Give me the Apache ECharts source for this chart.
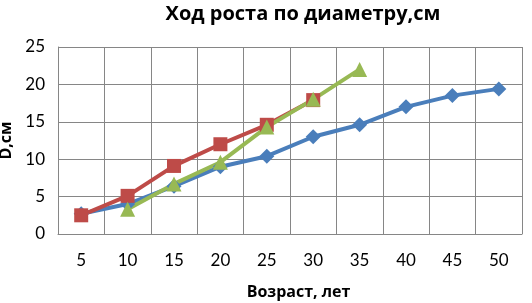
<!DOCTYPE html>
<html><head><meta charset="utf-8">
<script src="https://cdn.jsdelivr.net/npm/echarts@6/dist/echarts.min.js"></script>
<style>html,body{margin:0;padding:0;background:#fff}#c{width:532px;height:303px}</style>
</head><body><div id="c"></div>
<script>
const categories = ['5','10','15','20','25','30','35','40','45','50'];
const seriesBlue = [2.7, 4.0, 6.4, 9.0, 10.4, 13.0, 14.6, 17.0, 18.5, 19.4];
const seriesRed = [2.5, 5.1, 9.1, 12.0, 14.6, 17.9, null, null, null, null];
const seriesGreen = [null, 3.3, 6.7, 9.6, 14.3, 18.0, 22.0, null, null, null];
const yTicks = {min: 0, max: 25, interval: 5};
const title = 'Ход роста по диаметру,см';
const xName = 'Возраст, лет';
const yName = 'D,см';

const font = 'Lato, "Open Sans", sans-serif';
const boldFont = '"Open Sans", Lato, sans-serif';
const chart = echarts.init(document.getElementById('c'), null, {renderer: 'canvas'});
chart.setOption({
  animation: false,
  backgroundColor: '#fff',
  title: {text: title, left: 298, textAlign: 'center', top: -1,
    textStyle: {fontFamily: boldFont, fontWeight: 'bold', fontSize: 20, color: '#000'}},
  grid: {left: 58, right: 10, top: 47, bottom: 69, containLabel: false, outerBoundsMode: 'none'},
  xAxis: {type: 'category', data: categories, boundaryGap: true,
    name: xName, nameLocation: 'middle', nameGap: 50,
    nameTextStyle: {fontFamily: boldFont, fontWeight: 'bold', fontSize: 16, color: '#000', padding: [0, 0, 0, 17]},
    axisLine: {lineStyle: {color: '#868686', width: 1}},
    axisTick: {show: false},
    axisLabel: {fontFamily: font, fontSize: 17, color: '#000', margin: 18},
    splitLine: {show: true, lineStyle: {color: '#868686', width: 1}}},
  yAxis: {type: 'value', min: yTicks.min, max: yTicks.max, interval: yTicks.interval,
    name: yName, nameLocation: 'middle', nameGap: 40, nameRotate: 90,
    nameTextStyle: {fontFamily: boldFont, fontWeight: 'bold', fontSize: 16, color: '#000'},
    axisLine: {show: true, lineStyle: {color: '#868686', width: 1}},
    axisTick: {show: false},
    axisLabel: {fontFamily: font, fontSize: 17, color: '#000', margin: 13},
    splitLine: {show: true, lineStyle: {color: '#868686', width: 1}}},
  series: [
    {type: 'line', data: seriesBlue, symbol: 'diamond', symbolSize: 15,
     lineStyle: {color: '#4A7EBB', width: 4}, itemStyle: {color: '#4A7EBB'}},
    {type: 'line', data: seriesRed, symbol: 'rect', symbolSize: 14,
     lineStyle: {color: '#BE4B48', width: 4}, itemStyle: {color: '#BE4B48'}},
    {type: 'line', data: seriesGreen, symbol: 'triangle', symbolSize: 15,
     lineStyle: {color: '#98B954', width: 4}, itemStyle: {color: '#98B954'}}
  ]
});
</script></body></html>
